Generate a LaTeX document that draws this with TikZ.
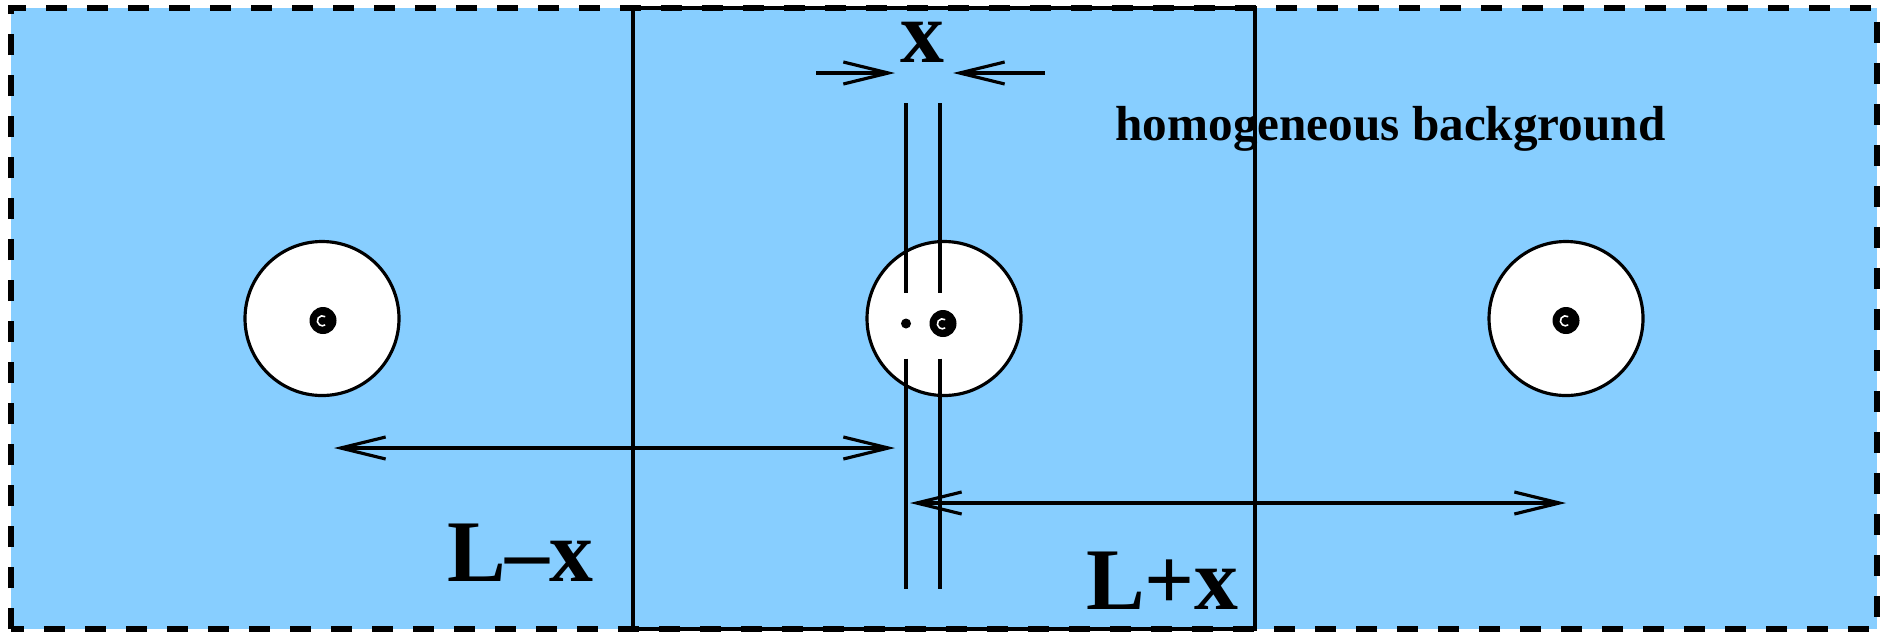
\documentclass[tikz,border=0pt]{standalone}
\usepackage{fontspec}
\setmainfont{Liberation Serif}
\usetikzlibrary{arrows.meta,calc}
\definecolor{ltblue}{RGB}{135,206,255}

\begin{document}
\begin{tikzpicture}[
    >={Straight Barb[length=0.45cm,width=0.22cm]},
    hole/.style={circle,draw,line width=0.9pt,fill=white,minimum size=1.54cm,inner sep=0pt},
    nucleus/.style={circle,fill=black,minimum size=0.27cm,inner sep=0pt,
        path picture={\draw[white,line width=0.45pt] ([shift={(0.022,0.038)}]path picture bounding box.center) arc[start angle=55,end angle=305,radius=0.05];}},
    guide/.style={line width=0.9pt},
    bigtxt/.style={font=\fontsize{25}{30}\selectfont\bfseries,inner sep=0pt,anchor=base},
]
    % Variables for the cell size
    \def\cellwidth{6.22}
    \def\cellheight{6.21}

    \useasboundingbox (-0.11,-0.02) rectangle (18.75,6.29);

    % Background and the three cells
    \fill[ltblue] (0,0) rectangle (3*\cellwidth,\cellheight);
    \draw[line width=1pt] (\cellwidth,0) rectangle (2*\cellwidth,\cellheight);
    \draw[line width=1.8pt,dash pattern=on 0.21cm off 0.2cm] (0,0) rectangle (3*\cellwidth,\cellheight);

    % Holes with the ions
    \node[hole] (left) at (\cellwidth/2,\cellheight/2) {};
    \node[hole] (mid) at (3*\cellwidth/2,\cellheight/2) {};
    \node[hole] (right) at (5*\cellwidth/2,\cellheight/2) {};
    \node[nucleus] (leftdot) at ($(left)+(0.01,-0.02)$) {};
    \node[nucleus] (middot) at ($(mid)+(-0.01,-0.05)$) {};
    \node[nucleus] (rightdot) at ($(right)+(0,-0.02)$) {};
    \node[circle,fill=black,minimum size=0.1cm,inner sep=0pt] (shifted) at ($(mid)+(-0.38,-0.05)$) {};

    % Guide lines for the shift
    \foreach \dx in {-0.38,-0.04} {
        \draw[guide] ($(mid)+(\dx,0.26)$) -- ($(mid)+(\dx,2.16)$);
        \draw[guide] ($(mid)+(\dx,-0.40)$) -- ($(mid)+(\dx,-2.70)$);
    }

    % Shift arrows
    \coordinate (xl) at (8.05,5.56);
    \coordinate (xltip) at (8.84,5.56);
    \coordinate (xr) at (10.34,5.56);
    \coordinate (xrtip) at (9.42,5.56);
    \draw[guide,->] (xl) -- (xltip);
    \draw[guide,->] (xr) -- (xrtip);
    \node[bigtxt] (xlabel) at (9.11,5.67) {x};

    % Distance arrows
    \coordinate (ashort) at (3.23,1.81);
    \coordinate (bshort) at (8.84,1.81);
    \coordinate (along) at (8.99,1.26);
    \coordinate (blong) at (right|-along);
    \draw[guide,<->] (ashort) -- (bshort);
    \draw[guide,<->] (along) -- (blong);

    % Labels
    \node[bigtxt] (lminus) at (5.095,0.48) {L--x};
    \node[bigtxt] (lplus) at (11.515,0.20) {L+x};
    \node[font=\fontsize{14}{17}\selectfont\bfseries,inner sep=0pt,anchor=base] (bglabel) at (13.795,4.89) {homogeneous background};
\end{tikzpicture}
\end{document}
